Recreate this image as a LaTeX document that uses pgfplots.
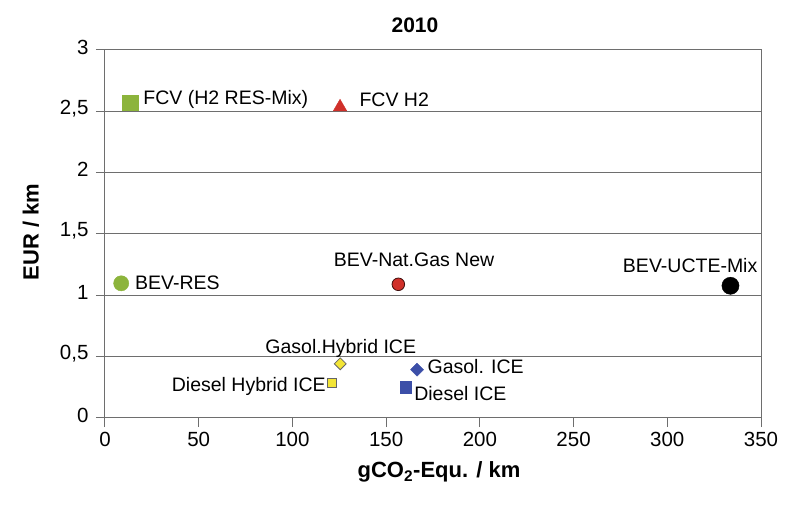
\documentclass[border=0pt]{standalone}
\usepackage{pgfplots}
\pgfplotsset{compat=1.18}
\usepackage{fontspec}
\setmainfont{Liberation Sans}
\definecolor{fgreen}{HTML}{8CB43C}
\definecolor{fred}{HTML}{D0302A}
\definecolor{fyellow}{HTML}{F3E536}
\definecolor{fblue}{HTML}{3C4FA8}
\definecolor{axgray}{HTML}{6E6E6E}
\newcommand{\lf}{\fontsize{19.5}{22}\selectfont}
\newcommand{\tf}{\fontsize{20.5}{23}\selectfont}
\begin{document}
\begin{tikzpicture}
\useasboundingbox (-105pt,-90pt) rectangle (695pt,418pt);
\begin{axis}[
  at={(0pt,0pt)}, anchor=south west,
  scale only axis, width=656pt, height=368pt,
  xmin=0, xmax=350, ymin=0, ymax=3,
  xtick={0,50,...,350}, ytick={0,0.5,...,3},
  xtick pos=lower, ytick pos=left,
  tick align=outside, major tick length=9pt,
  ymajorgrids,
  grid style={axgray, line width=1pt},
  axis line style={axgray, line width=1pt},
  tick style={axgray, line width=1pt},
  /pgf/number format/use comma,
  /pgf/number format/assume math mode=true,
  ticklabel style={font=\tf},
  yticklabel style={xshift=-4pt, yshift=3pt},
  xticklabel style={yshift=-2pt},
  clip=false,
]
\addplot[only marks, mark=square*, mark size=7.8pt, color=fgreen] coordinates {(13.3,2.57)};
\addplot[only marks, mark=triangle*, mark size=7.8pt, color=fred] coordinates {(125.4,2.535)};
\addplot[only marks, mark=*, mark size=7.6pt, color=fgreen] coordinates {(8.65,1.098)};
\addplot[only marks, mark=*, mark size=6.3pt, color=fred, mark options={draw=black!70!fred, line width=0.8pt}] coordinates {(156.5,1.09)};
\addplot[only marks, mark=*, mark size=8.6pt, color=black] coordinates {(333.7,1.078)};
\addplot[only marks, mark=square*, mark size=4.2pt, mark options={rotate=45, fill=fyellow, draw=black!60, line width=0.8pt}] coordinates {(125.5,0.442)};
\addplot[only marks, mark=square*, mark size=4.2pt, mark options={fill=fyellow, draw=black!60, line width=0.8pt}] coordinates {(121.0,0.287)};
\addplot[only marks, mark=square*, mark size=4.6pt, mark options={rotate=45, fill=fblue, draw=fblue}] coordinates {(166.5,0.394)};
\addplot[only marks, mark=square*, mark size=5.6pt, mark options={fill=fblue, draw=fblue}] coordinates {(160.5,0.251)};
\node[anchor=base west, inner sep=0pt, font=\lf] at (axis cs:20.4,2.557) {FCV (H2 RES-Mix)};
\node[anchor=base west, inner sep=0pt, font=\lf] at (axis cs:135.7,2.538) {FCV H2};
\node[anchor=base west, inner sep=0pt, font=\lf] at (axis cs:16.0,1.049) {BEV-RES};
\node[anchor=base, inner sep=0pt, font=\lf] at (axis cs:164.9,1.239) {BEV-Nat.Gas New};
\node[anchor=base, inner sep=0pt, font=\lf] at (axis cs:312.2,1.188) {BEV-UCTE-Mix};
\node[anchor=base, inner sep=0pt, font=\lf] at (axis cs:125.8,0.527) {Gasol.Hybrid ICE};
\node[anchor=base east, inner sep=0pt, font=\lf] at (axis cs:117.9,0.214) {Diesel Hybrid ICE};
\node[anchor=base west, inner sep=0pt, font=\lf] at (axis cs:172.0,0.359) {Gasol. ICE};
\node[anchor=base west, inner sep=0pt, font=\lf] at (axis cs:164.9,0.141) {Diesel ICE};
\end{axis}
\node[anchor=base, inner sep=0pt, font=\fontsize{21}{24}\selectfont\bfseries] at (310pt,385pt) {2010};
\node[anchor=base, inner sep=0pt, font=\fontsize{22}{25}\selectfont\bfseries] at (334pt,-60pt) {gCO\textsubscript{2}-Equ. / km};
\node[rotate=90, inner sep=0pt, font=\fontsize{22}{25}\selectfont\bfseries] at (-74pt,186pt) {EUR / km};
\end{tikzpicture}
\end{document}
